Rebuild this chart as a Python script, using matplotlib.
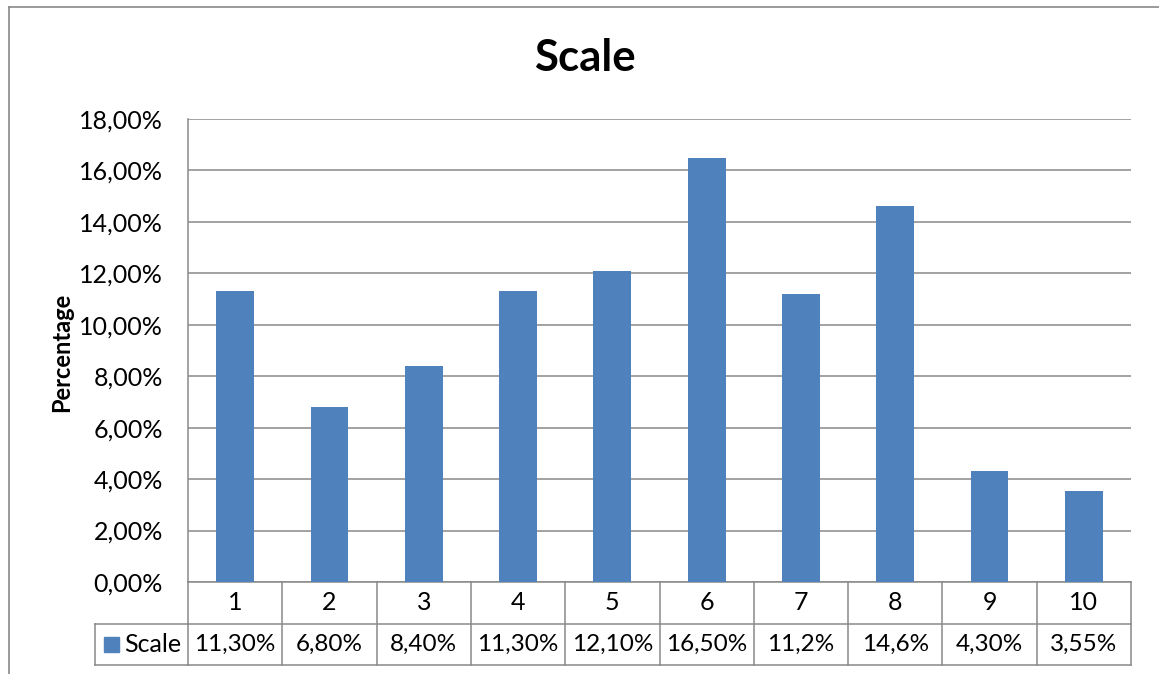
import matplotlib.pyplot as plt
from matplotlib.transforms import blended_transform_factory
from matplotlib.patches import Rectangle
from matplotlib.lines import Line2D

plt.rcParams['font.family'] = ['Lato', 'DejaVu Sans']

categories = ['1', '2', '3', '4', '5', '6', '7', '8', '9', '10']
values = [11.30, 6.80, 8.40, 11.30, 12.10, 16.50, 11.2, 14.6, 4.30, 3.55]
value_labels = ['11,30%', '6,80%', '8,40%', '11,30%', '12,10%', '16,50%', '11,2%', '14,6%', '4,30%', '3,55%']
series_name = 'Scale'
yticks = [0, 2, 4, 6, 8, 10, 12, 14, 16, 18]

W, H = 1159, 674
bar_color = '#4F81BD'
line_color = '#898989'

fig = plt.figure(figsize=(W / 100, H / 100), dpi=100)

def fx(px):
    return px / W

def fy(py):
    return 1 - py / H

# outer chart frame (left and top edges only visible)
fig.add_artist(Line2D([fx(9), fx(9)], [fy(7), 0], color=line_color, lw=1.2))
fig.add_artist(Line2D([fx(9), 1], [fy(7), fy(7)], color=line_color, lw=1.2))

ax = fig.add_axes([fx(188), fy(582), fx(1131) - fx(188), fy(119) - fy(582)])
x = list(range(len(categories)))
ax.bar(x, values, width=0.4, color=bar_color, zorder=3)
ax.set_xlim(-0.5, len(categories) - 0.5)
ax.set_ylim(0, 18)
ax.set_yticks(yticks)
ax.set_yticklabels([f'{t:.2f}'.replace('.', ',') + '%' for t in yticks], fontsize=18)
ax.tick_params(axis='y', length=0, pad=18)
ax.set_xticks([])
ax.grid(axis='y', color=line_color, lw=1.1, zorder=0)
for side in ['top', 'right']:
    ax.spines[side].set_visible(False)
ax.spines['left'].set_color(line_color)
ax.spines['bottom'].set_color(line_color)
ax.spines['left'].set_linewidth(1.1)
ax.spines['bottom'].set_linewidth(1.1)

fig.text(fx(585), fy(58), 'Scale', fontsize=31.5, fontweight='bold', ha='center', va='center')
fig.text(fx(62), fy(352), 'Percentage', rotation=90, fontsize=17, fontweight='bold',
         ha='center', va='center')

# data table under the axis
trans = blended_transform_factory(ax.transData, fig.transFigure)
row1_top, row1_bot, row2_bot = fy(582), fy(624), fy(665)
for i in range(len(categories) + 1):
    xb = i - 0.5
    fig.add_artist(Line2D([xb, xb], [row1_top, row2_bot], transform=trans, color=line_color, lw=1.1))
fig.add_artist(Line2D([-0.5, len(categories) - 0.5], [row1_bot, row1_bot], transform=trans, color=line_color, lw=1.1))
fig.add_artist(Line2D([-0.5, len(categories) - 0.5], [row2_bot, row2_bot], transform=trans, color=line_color, lw=1.1))
# legend cell
fig.add_artist(Line2D([fx(95), fx(188)], [row1_bot, row1_bot], color=line_color, lw=1.1))
fig.add_artist(Line2D([fx(95), fx(188)], [row2_bot, row2_bot], color=line_color, lw=1.1))
fig.add_artist(Line2D([fx(95), fx(95)], [row1_bot, row2_bot], color=line_color, lw=1.1))
fig.add_artist(Rectangle((fx(104), fy(652)), fx(15), fy(637) - fy(652), color=bar_color))
fig.text(fx(124), (row1_bot + row2_bot) / 2, series_name, fontsize=18, ha='left', va='center')

for i, (c, lab) in enumerate(zip(categories, value_labels)):
    fig.text(i, (row1_top + row1_bot) / 2, c, transform=trans, fontsize=18, ha='center', va='center')
    fig.text(i, (row1_bot + row2_bot) / 2, lab, transform=trans, fontsize=17.5, ha='center', va='center')

fig.savefig('out.png', dpi=100)
